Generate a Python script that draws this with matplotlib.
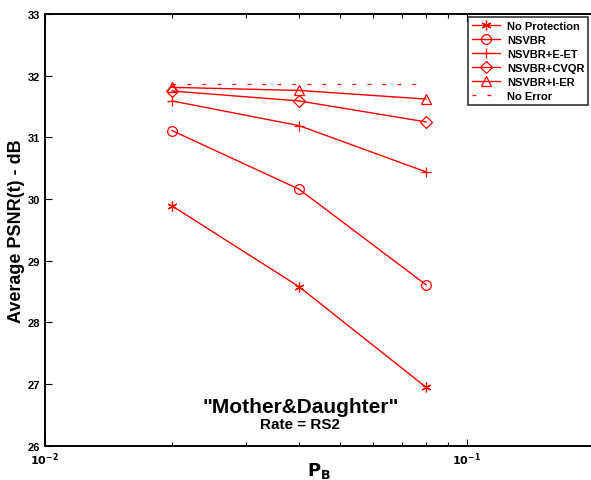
import numpy as np
import matplotlib.pyplot as plt
from matplotlib.ticker import LogLocator, FixedLocator

plt.rcParams['font.family'] = ['Liberation Sans', 'DejaVu Sans']
plt.rcParams['font.weight'] = 'bold'

# error probabilities
pb = [0.02, 0.04, 0.08]

# average PSNR values (dB)
no_protection = [29.89, 28.58, 26.95]
nsvbr = [31.11, 30.16, 28.61]
nsvbr_eet = [31.59, 31.19, 30.44]
nsvbr_cvqr = [31.75, 31.59, 31.25]
nsvbr_ier = [31.81, 31.76, 31.62]
no_error = [31.87, 31.87, 31.87]

series = [
    ('No Protection', no_protection, (6, 2, 0), 7),
    ('NSVBR', nsvbr, 'o', 7),
    ('NSVBR+E-ET', nsvbr_eet, '+', 7),
    ('NSVBR+CVQR', nsvbr_cvqr, 'D', 6.3),
    ('NSVBR+I-ER', nsvbr_ier, '^', 7),
]

fig = plt.figure(figsize=(5.91, 4.81), dpi=100)
ax = fig.add_axes([0.076, 0.071, 0.929, 0.898])

for name, vals, mk, ms in series:
    ax.plot(pb, vals, color='red', lw=1.0, marker=mk, ms=ms,
            mfc='none', mec='red', mew=0.9, label=name)
ax.plot(pb, no_error, color='red', lw=0.9, dashes=(3, 9), label='No Error')

ax.set_xscale('log')
ax.set_xlim(0.01, 0.2)
ax.set_ylim(26, 33)
ax.set_yticks(np.arange(26, 34, 1))
ax.xaxis.set_major_locator(FixedLocator([0.01, 0.1]))
ax.xaxis.set_minor_locator(LogLocator(base=10, subs=np.arange(2, 10)))
ax.tick_params(which='both', direction='in', top=True, right=False,
               labelsize=8)
ax.tick_params(which='major', length=5, width=0.8)
ax.tick_params(which='minor', length=3, width=0.8)
ax.set_xticklabels([r'$\mathbf{10^{-2}}$', r'$\mathbf{10^{-1}}$'])
for lab in ax.get_yticklabels():
    lab.set_fontweight('bold')
for s in ax.spines.values():
    s.set_linewidth(1.4)

ax.set_ylabel('Average PSNR(t) - dB', fontsize=13, fontweight='bold', labelpad=2)
ax.set_xlabel(r'$\mathbf{P_B}$', fontsize=13, labelpad=-5)

ax.text(0.465, 0.09, '"Mother&Daughter"', transform=ax.transAxes,
        ha='center', va='center', fontsize=15, fontweight='bold')
ax.text(0.465, 0.05, 'Rate = RS2', transform=ax.transAxes,
        ha='center', va='center', fontsize=11, fontweight='bold')

leg = ax.legend(loc='upper right', bbox_to_anchor=(0.99, 0.992), fontsize=8,
                frameon=True, fancybox=False, edgecolor='black',
                handlelength=2.6, borderpad=0.35, labelspacing=0.35,
                handletextpad=0.6, borderaxespad=0, markerscale=1.0)
leg.get_frame().set_linewidth(1.2)
for t in leg.get_texts():
    t.set_fontweight('bold')

fig.savefig('out.png', dpi=100)
